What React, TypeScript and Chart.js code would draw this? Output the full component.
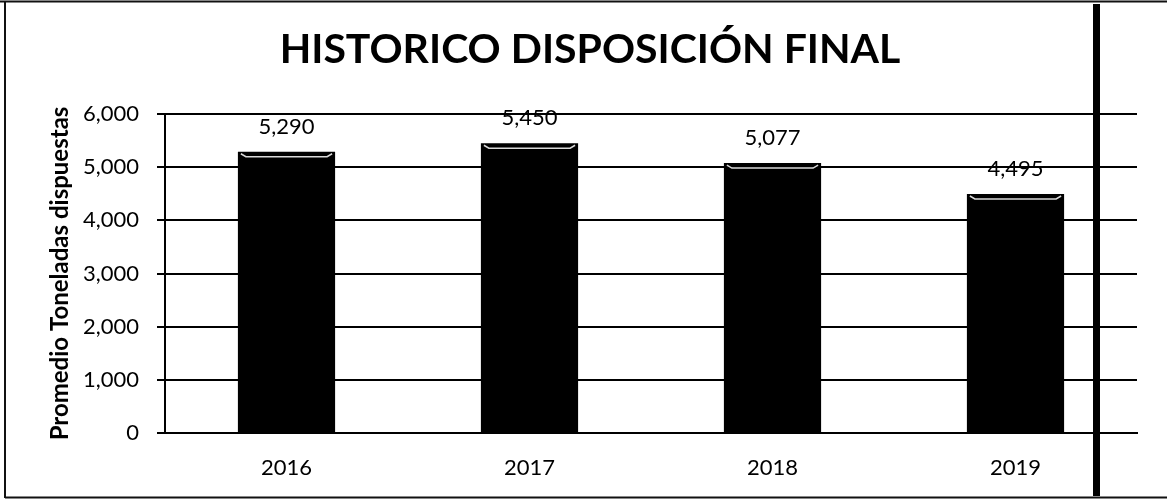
import React, { useEffect, useRef } from "react";
import { Chart, registerables } from "chart.js";

Chart.register(...registerables);

const categories: string[] = ["2016", "2017", "2018", "2019"];
const values: number[] = [5290, 5450, 5077, 4495];
const yTicks: number[] = [0, 1000, 2000, 3000, 4000, 5000, 6000];
const titleText = "HISTORICO DISPOSICIÓN FINAL";
const yAxisTitle = "Promedio Toneladas dispuestas";

const FONT = "Lato, 'Open Sans', sans-serif";

const decorPlugin = {
  id: "decor",
  beforeDraw(chart: any) {
    const ctx = chart.ctx;
    ctx.save();
    ctx.fillStyle = "#ffffff";
    ctx.fillRect(0, 0, chart.width, chart.height);
    ctx.restore();
  },
  afterDatasetsDraw(chart: any) {
    const ctx = chart.ctx;
    const meta = chart.getDatasetMeta(0);
    ctx.save();
    // bevel highlights on bars
    meta.data.forEach((bar: any) => {
      const half = bar.width / 2;
      ctx.strokeStyle = "#d9d9d9";
      ctx.lineWidth = 1.5;
      ctx.beginPath();
      ctx.moveTo(bar.x - half + 3, bar.y + 2);
      ctx.lineTo(bar.x - half + 8, bar.y + 5);
      ctx.lineTo(bar.x + half - 8, bar.y + 5);
      ctx.lineTo(bar.x + half - 3, bar.y + 2);
      ctx.stroke();
    });
    // value labels
    ctx.fillStyle = "#000";
    ctx.font = `22px ${FONT}`;
    ctx.textAlign = "center";
    ctx.textBaseline = "middle";
    meta.data.forEach((bar: any, i: number) => {
      ctx.fillText(values[i].toLocaleString("en-US"), bar.x, bar.y - 25);
    });
    ctx.restore();
  },
  afterDraw(chart: any) {
    const ctx = chart.ctx;
    const W = chart.width;
    const H = chart.height;
    ctx.save();
    // title
    ctx.fillStyle = "#000";
    ctx.font = `bold 41px ${FONT}`;
    ctx.textAlign = "center";
    ctx.textBaseline = "alphabetic";
    ctx.fillText(titleText, 590, 63);
    // outer border
    ctx.strokeStyle = "#111";
    ctx.lineWidth = 2;
    ctx.beginPath();
    ctx.moveTo(0, 1.5);
    ctx.lineTo(W, 1.5);
    ctx.moveTo(5, 1.5);
    ctx.lineTo(5, H - 2);
    ctx.moveTo(5, H - 2.5);
    ctx.lineTo(W, H - 2.5);
    ctx.stroke();
    // thick vertical line at right
    ctx.fillStyle = "#000";
    ctx.fillRect(1093, 4, 7, H - 8);
    ctx.restore();
  },
};

export default function App() {
  const ref = useRef<HTMLCanvasElement | null>(null);
  useEffect(() => {
    if (!ref.current) return;
    const chart = new Chart(ref.current, {
      type: "bar",
      data: {
        labels: categories,
        datasets: [
          {
            data: values,
            backgroundColor: "#000000",
            borderWidth: 0,
            barPercentage: 0.4,
            categoryPercentage: 1,
          },
        ],
      },
      options: {
        animation: false,
        responsive: false,
        maintainAspectRatio: false,
        layout: { padding: { top: 114, right: 30, left: 0, bottom: 0 } },
        plugins: {
          legend: { display: false },
          title: { display: false },
          tooltip: { enabled: false },
        },
        scales: {
          x: {
            grid: { display: false, drawTicks: false },
            border: { display: true, color: "#000", width: 2 },
            ticks: {
              color: "#000",
              font: { family: FONT, size: 22 },
              padding: 22,
            },
            afterFit(scale: any) {
              scale.height = 67;
            },
          },
          y: {
            min: 0,
            max: 6000,
            afterBuildTicks(scale: any) {
              scale.ticks = yTicks.map((v) => ({ value: v }));
            },
            grid: {
              color: "#000",
              lineWidth: 2,
              tickLength: 8,
              drawTicks: true,
            },
            border: { display: true, color: "#000", width: 2 },
            ticks: {
              color: "#000",
              font: { family: FONT, size: 22 },
              padding: 18,
              callback: (v: any) => Number(v).toLocaleString("en-US"),
            },
            title: {
              display: true,
              text: yAxisTitle,
              color: "#000",
              font: { family: FONT, size: 24, weight: "bold" },
              padding: { top: 46, bottom: 0 },
            },
            afterFit(scale: any) {
              scale.width = 165;
            },
          },
        },
      },
      plugins: [decorPlugin],
    } as any);
    return () => chart.destroy();
  }, []);
  return (
    <div style={{ position: "absolute", left: 0, top: 0, width: 1167, height: 500 }}>
      <canvas ref={ref} width={1167} height={500} style={{ width: 1167, height: 500, display: "block" }} />
    </div>
  );
}
